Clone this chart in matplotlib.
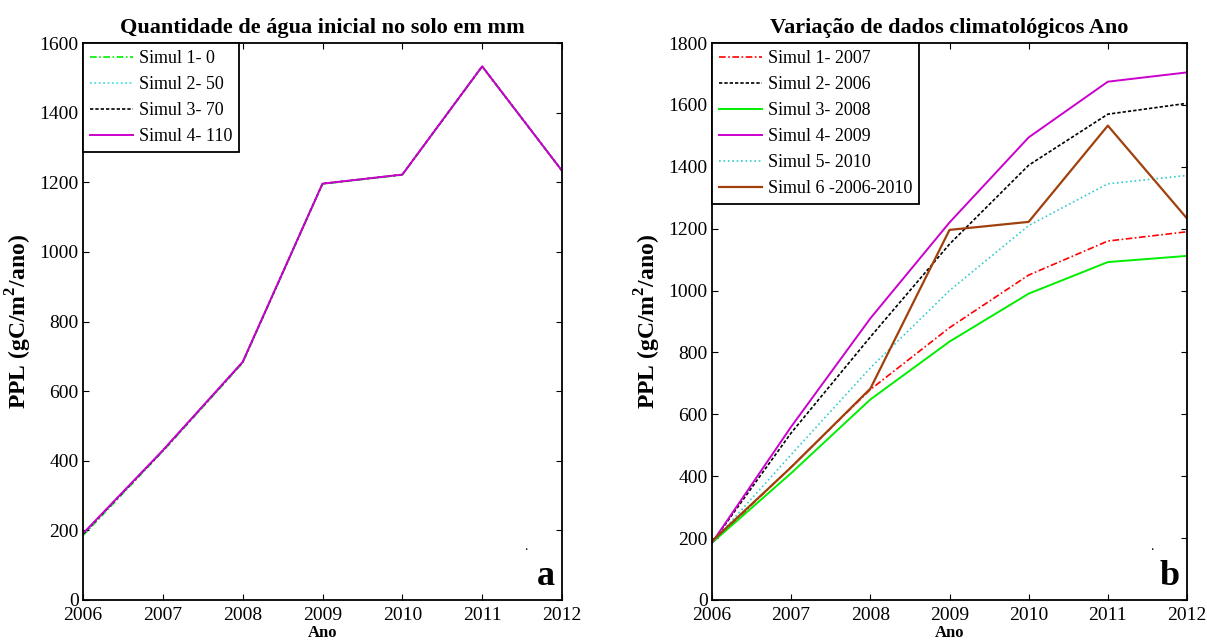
import numpy as np
import matplotlib.pyplot as plt

plt.rcParams['font.family'] = ['Liberation Serif', 'DejaVu Serif']
plt.rcParams['mathtext.fontset'] = 'custom'
plt.rcParams['mathtext.rm'] = 'Liberation Serif'
plt.rcParams['mathtext.bf'] = 'Liberation Serif:bold'

anos = [2006, 2007, 2008, 2009, 2010, 2011, 2012]

# painel a - agua inicial no solo
agua_s1 = [185, 427, 681, 1195, 1221, 1532, 1233]
agua_s2 = [187, 428, 682, 1196, 1222, 1533, 1233]
agua_s3 = [189, 429, 683, 1196, 1222, 1533, 1233]
agua_s4 = [191, 430, 684, 1196, 1222, 1533, 1233]

# painel b - dados climatologicos
clim_s1 = [185, 430, 680, 880, 1050, 1160, 1190]
clim_s2 = [185, 540, 850, 1150, 1405, 1570, 1605]
clim_s3 = [185, 410, 648, 835, 990, 1092, 1112]
clim_s4 = [185, 560, 910, 1220, 1495, 1675, 1705]
clim_s5 = [185, 470, 750, 1000, 1210, 1345, 1372]
clim_s6 = [190, 429, 683, 1196, 1222, 1533, 1233]

fig = plt.figure(figsize=(12.07, 6.43), dpi=100)
ax1 = fig.add_axes([83/1207, 43/643, 479/1207, 557/643])
ax2 = fig.add_axes([712/1207, 43/643, 475/1207, 557/643])

ax1.plot(anos, agua_s1, color='#00ee00', ls=(0, (4, 1.5, 1, 1.5)), lw=1.2, label='Simul 1- 0')
ax1.plot(anos, agua_s2, color='#33dddd', ls=':', lw=1.2, label='Simul 2- 50')
ax1.plot(anos, agua_s3, color='black', ls=(0, (2, 1.2)), lw=1.2, label='Simul 3- 70')
ax1.plot(anos, agua_s4, color='#cc00cc', lw=1.4, label='Simul 4- 110')

ax2.plot(anos, clim_s1, color='#ff0000', ls=(0, (4, 1.5, 1, 1.5)), lw=1.2, label='Simul 1- 2007')
ax2.plot(anos, clim_s2, color='black', ls=(0, (2, 1.2)), lw=1.2, label='Simul 2- 2006')
ax2.plot(anos, clim_s3, color='#00ee00', lw=1.4, label='Simul 3- 2008')
ax2.plot(anos, clim_s4, color='#cc00cc', lw=1.4, label='Simul 4- 2009')
ax2.plot(anos, clim_s5, color='#33cccc', ls=':', lw=1.2, label='Simul 5- 2010')
ax2.plot(anos, clim_s6, color='#a0410d', lw=1.6, label='Simul 6 -2006-2010')

titulos = ['Quantidade de água inicial no solo em mm', 'Variação de dados climatológicos Ano']
letras = ['a', 'b']
for ax, tit, letra, ymax in zip([ax1, ax2], titulos, letras, [1600, 1800]):
    ax.set_xlim(2006, 2012)
    ax.set_ylim(0, ymax)
    ax.set_xticks(anos)
    ax.set_yticks(np.arange(0, ymax + 1, 200))
    ax.tick_params(direction='in', top=True, right=True, labelsize=14, length=4, width=0.8)
    ax.tick_params(axis='x', pad=5)
    ax.tick_params(axis='y', pad=3)
    for s in ax.spines.values():
        s.set_linewidth(1.3)
    ax.set_title(tit, fontsize=16, fontweight='bold', pad=7)
    ax.set_xlabel('Ano', fontsize=12, fontweight='bold', labelpad=1)
    ax.set_ylabel(r'PPL (gC/m$^{\mathbf{2}}$/ano)', fontsize=17, fontweight='bold', labelpad=4)
    ax.text(0.985, 0.012, letra, transform=ax.transAxes, ha='right', va='bottom',
            fontsize=26, fontweight='bold')
    ax.text(0.925, 0.085, '.', transform=ax.transAxes, ha='center', va='bottom', fontsize=10)
    leg = ax.legend(loc='upper left', bbox_to_anchor=(0, 1), borderaxespad=0, fontsize=13,
                    fancybox=False, framealpha=1, edgecolor='black', handlelength=2.4,
                    handletextpad=0.3, labelspacing=0.5, borderpad=0.38)
    leg.get_frame().set_linewidth(1.3)

fig.savefig('out.png', dpi=100)
